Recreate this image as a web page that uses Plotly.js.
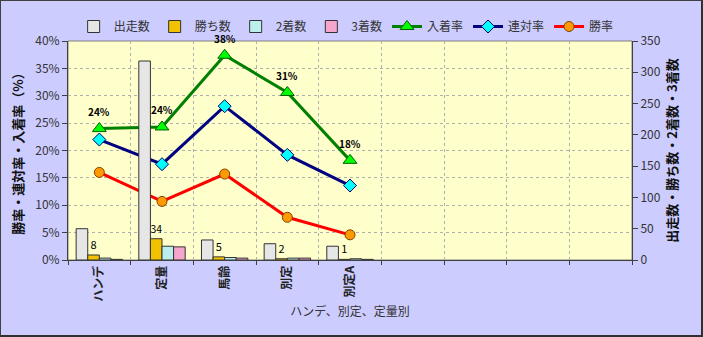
<!DOCTYPE html>
<html>
<head>
<meta charset="utf-8">
<script src="https://cdn.plot.ly/plotly-3.0.1.min.js"></script>
<style>
  html, body { margin: 0; padding: 0; background: #CCCCFF; }
  #wrap { position: relative; width: 703px; height: 337px; }
  #chart { width: 703px; height: 337px; }
  #frame { position: absolute; left: 0; top: 0; width: 703px; height: 337px; box-sizing: border-box;
           border: 1px solid #404040; border-right: 2px solid #303030; border-bottom: 2px solid #303030; pointer-events: none; }
</style>
</head>
<body>
<div id="wrap"><div id="chart"></div><div id="frame"></div></div>
<script>
const categories = ['ハンデ', '定量', '馬齢', '別定', '別定A'];
const emptySlots = [' ', '  ', '   ', '    '];
const starts  = [50, 318, 32, 26, 22];
const wins    = [8, 34, 5, 2, 1];
const seconds = [3, 22, 4, 3, 2];
const thirds  = [1, 21, 3, 3, 1];
const placeRate  = [24.0, 24.3, 37.4, 30.6, 18.2];
const rentaiRate = [22.0, 17.5, 28.1, 19.2, 13.6];
const winRate    = [16.0, 10.7, 15.7, 7.8, 4.6];
const placeLabels = ['24%', '24%', '38%', '31%', '18%'];
const winLabels = wins.map(String);

const FONT = '"Noto Sans CJK JP", "Noto Sans", sans-serif';
const barLine = { color: '#333333', width: 1 };

const data = [
  { type: 'bar', name: '出走数', x: categories, y: starts, yaxis: 'y2',
    marker: { color: '#E6E6E6', line: barLine } },
  { type: 'bar', name: '勝ち数', x: categories, y: wins, yaxis: 'y2',
    marker: { color: '#F2C200', line: barLine },
    text: winLabels, textposition: 'outside', cliponaxis: false,
    textfont: { size: 11, color: '#000000', family: FONT } },
  { type: 'bar', name: '2着数', x: categories, y: seconds, yaxis: 'y2',
    marker: { color: '#BDEEEE', line: barLine } },
  { type: 'bar', name: '3着数', x: categories, y: thirds, yaxis: 'y2',
    marker: { color: '#F4A6CC', line: barLine } },
  { type: 'scatter', mode: 'lines+markers', name: '入着率', x: categories, y: placeRate,
    line: { color: '#008000', width: 3 },
    marker: { symbol: 'triangle-up', size: 12, color: '#00FF00', line: { color: '#006000', width: 1 } } },
  { type: 'scatter', mode: 'lines+markers', name: '連対率', x: categories, y: rentaiRate,
    line: { color: '#000080', width: 3 },
    marker: { symbol: 'diamond', size: 10, color: '#00FFFF', line: { color: '#000060', width: 1 } } },
  { type: 'scatter', mode: 'lines+markers', name: '勝率', x: categories, y: winRate,
    line: { color: '#FF0000', width: 3 },
    marker: { symbol: 'circle', size: 10, color: '#FF9900', line: { color: '#804000', width: 1 } } }
];

const annotations = categories.map((c, i) => ({
  x: c, y: placeRate[i], xref: 'x', yref: 'y', text: placeLabels[i],
  showarrow: false, yshift: 17, font: { size: 10, color: '#000000', family: FONT, weight: 'bold' }
}));

const layout = {
  width: 703, height: 337,
  margin: { l: 68, r: 71, t: 25, b: 77 },
  paper_bgcolor: '#CCCCFF',
  plot_bgcolor: '#FFFFCC',
  font: { family: FONT, size: 12, color: '#333333' },
  barmode: 'group', bargap: 0.26, bargroupgap: 0,
  showlegend: true,
  legend: { orientation: 'h', x: 0.01, xanchor: 'left', y: 1.0, yanchor: 'bottom',
            bgcolor: 'rgba(0,0,0,0)', font: { size: 12, color: '#333333' }, traceorder: 'normal' },
  annotations: annotations,
  xaxis: {
    type: 'category', categoryorder: 'array', categoryarray: categories.concat(emptySlots),
    range: [-0.5, 8.5], tickson: 'boundaries',
    showgrid: true, gridcolor: '#B0B0B0', griddash: 'dot', gridwidth: 1,
    showline: true, linecolor: '#404040', linewidth: 1,
    ticks: 'outside', ticklen: 4, tickcolor: '#404040',
    tickangle: -90, tickfont: { size: 12, color: '#222222', weight: 'bold' },
    title: { text: 'ハンデ、別定、定量別', font: { size: 12, color: '#333333' }, standoff: 6 },
    zeroline: false
  },
  yaxis: {
    range: [0, 40], dtick: 5, ticksuffix: '%',
    showgrid: true, gridcolor: '#B0B0B0', griddash: 'dot', gridwidth: 1,
    showline: true, linecolor: '#404040', linewidth: 1,
    ticks: 'outside', ticklen: 5, tickcolor: '#404040',
    tickfont: { size: 12, color: '#333333' },
    title: { text: '勝率・連対率・入着率（%）', font: { size: 13, color: '#111111', weight: 'bold' }, standoff: 8 },
    zeroline: false
  },
  yaxis2: {
    overlaying: 'y', side: 'right', range: [0, 350], dtick: 50,
    showgrid: false, showline: true, linecolor: '#404040', linewidth: 1,
    ticks: 'outside', ticklen: 5, tickcolor: '#404040',
    tickfont: { size: 12, color: '#333333' },
    title: { text: '出走数・勝ち数・2着数・3着数', font: { size: 13, color: '#111111', weight: 'bold' }, standoff: 8 },
    zeroline: false
  },
  shapes: [
    { type: 'rect', xref: 'paper', yref: 'paper', x0: 0, x1: 1, y0: 0, y1: 1,
      line: { color: '#808080', width: 1 }, layer: 'below' }
  ]
};

Plotly.newPlot('chart', data, layout, { displayModeBar: false, staticPlot: true });
</script>
</body>
</html>
